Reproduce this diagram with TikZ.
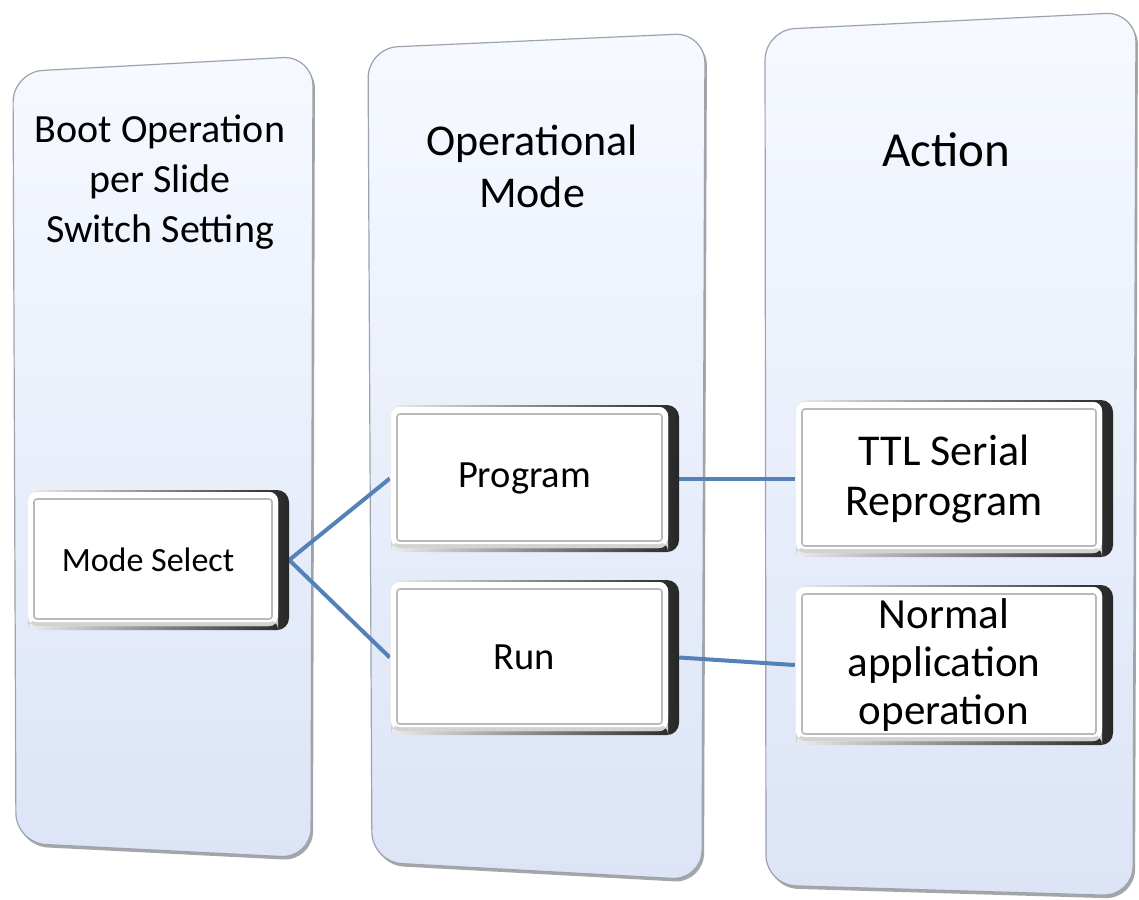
\documentclass[tikz,border=0pt]{standalone}
\usepackage{fontspec}
\setmainfont{Carlito}
\definecolor{colTop}{HTML}{F6F9FF}
\definecolor{colBot}{HTML}{DCE4F6}
\definecolor{colEdge}{HTML}{9AA3AE}
\definecolor{link}{HTML}{5482B8}
\pgfdeclarelayer{cols}
\pgfdeclarelayer{links}
\pgfsetlayers{cols,links,main}
\newcommand\bevelbox[8]{%
  \shade[rounded corners=12pt, left color=gray!15, right color=black!85]
    (#2,#3) rectangle (#4,#5);
  \fill[white, rounded corners=9pt] ({#2+1},{#3+2}) rectangle ({#4-11},{#5-4});
  \fill[gray!35, rounded corners=9pt] ({#2+1},{#5-4}) rectangle ({#4-11},{#5-10});
  \fill[white, rounded corners=9pt] ({#2+1},{#3+2}) rectangle ({#4-11},{#5-8});
  \draw[gray!55, line width=1.6pt, fill=white, rounded corners=3pt]
    ({#2+7},{#3+9}) rectangle ({#4-17},{#5-11});
  \node[inner sep=0pt, minimum height={#5-#3},
        font=\fontsize{#7}{#8}\selectfont]
    (#1) at ({(#2+#4)/2},{(#3+#5)/2})
    {\parbox{\dimexpr#4pt-#2pt-20pt\relax}{\centering #6}\hbox to 20pt{}};
}
\begin{document}
\begin{tikzpicture}[x=1pt,y=-1pt,
  column/.style={rounded corners=30pt, top color=colTop, bottom color=colBot},
  colshadow/.style={rounded corners=30pt, fill=gray!70},
  coledge/.style={rounded corners=30pt, draw=colEdge, line width=1.2pt},
  header/.style={align=center, inner sep=0pt},
  connector/.style={draw=link, line width=4pt}]
\useasboundingbox (0,0) rectangle (1139,899);
\begin{pgfonlayer}{cols}
\fill[white] (0,0) rectangle (1139,899);

% columns
\fill[colshadow] (15,75) -- (315,59) -- (313,861) -- (18,846) -- cycle;
\shade[column] (13,72) -- (313,56) -- (311,858) -- (16,843) -- cycle;
\draw[coledge] (13,72) -- (313,56) -- (311,858) -- (16,843) -- cycle;

\fill[colshadow] (370,51) -- (707,36) -- (704,883) -- (374,865) -- cycle;
\shade[column] (368,48) -- (705,33) -- (702,880) -- (372,862) -- cycle;
\draw[coledge] (368,48) -- (705,33) -- (702,880) -- (372,862) -- cycle;

\fill[colshadow] (767,33) -- (1138,15) -- (1135,899) -- (768,888) -- cycle;
\shade[column] (765,30) -- (1136,12) -- (1133,896) -- (766,885) -- cycle;
\draw[coledge] (765,30) -- (1136,12) -- (1133,896) -- (766,885) -- cycle;
\end{pgfonlayer}

% headers
\node[header, font=\fontsize{40}{50}\selectfont] (h1) at (160,182)
  {Boot Operation\\per Slide\\Switch Setting};
\node[header, font=\fontsize{44}{52}\selectfont] (h2) at (532,166)
  {Operational\\Mode};
\node[header, font=\fontsize{49}{56}\selectfont] (h3) at (946,150) {Action};

% boxes
\bevelbox{ms}{27}{490}{289}{630}{Mode Select}{34}{40}
\bevelbox{prog}{390}{405}{679}{552}{Program}{38.5}{44}
\bevelbox{run}{390}{580}{679}{735}{Run}{38.5}{44}
\bevelbox{ttl}{795}{400}{1113}{557}{TTL Serial\\Reprogram}{44}{50}
\bevelbox{norm}{795}{585}{1113}{745}{Normal\\application\\operation}{43}{48}

% connectors
\begin{pgfonlayer}{links}
\draw[connector] (ms.east) -- (prog.west);
\draw[connector] (ms.east) -- (run.west);
\draw[connector] (prog.east) -- (ttl.west);
\draw[connector] (run.east) -- (norm.west);
\end{pgfonlayer}
\end{tikzpicture}
\end{document}
